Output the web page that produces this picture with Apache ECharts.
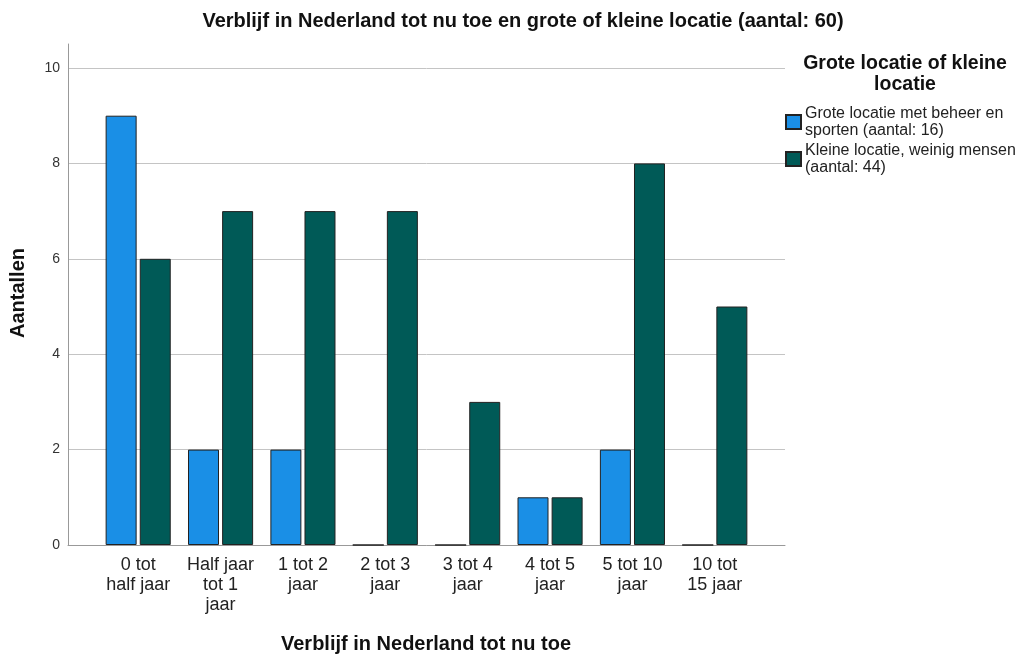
<!DOCTYPE html>
<html lang="nl">
<head>
    <meta charset="utf-8">
    <title>Verblijf in Nederland</title>
    <script src="https://cdn.jsdelivr.net/npm/echarts@6/dist/echarts.min.js"></script>
    <style type="text/css">
        html, body { margin: 0; padding: 0; background: #fff; }
        #main { width: 1026px; height: 655px; }
    </style>
</head>
<body>
    <div id="main"></div>
    <script type="text/javascript">
        // categorieën en aantallen
        var categories = ['0 tot\nhalf jaar', 'Half jaar\ntot 1\njaar', '1 tot 2\njaar', '2 tot 3\njaar',
            '3 tot 4\njaar', '4 tot 5\njaar', '5 tot 10\njaar', '10 tot\n15 jaar'];
        var groot = [9, 2, 2, 0, 0, 1, 2, 0];
        var klein = [6, 7, 7, 7, 3, 1, 8, 5];
        var legendNames = {
            groot: 'Grote locatie met beheer en\nsporten (aantal: 16)',
            klein: 'Kleine locatie, weinig mensen\n(aantal: 44)'
        };

        var chart = echarts.init(document.getElementById('main'));
        var font = 'Arial, "Liberation Sans", sans-serif';

        var option = {
            animation: false,
            textStyle: { fontFamily: font },
            title: {
                text: 'Verblijf in Nederland tot nu toe en grote of kleine locatie (aantal: 60)',
                left: 518, textAlign: 'center', top: 6,
                textStyle: { fontSize: 20, fontWeight: 'bold', color: '#111', fontFamily: font }
            },
            graphic: [
                {
                    type: 'text', x: 905, y: 53,
                    style: {
                        text: 'Grote locatie of kleine\nlocatie',
                        textAlign: 'center', fill: '#111', lineHeight: 21,
                        font: 'bold 19.5px Arial, "Liberation Sans", sans-serif'
                    }
                },
                {
                    type: 'text', x: 426, y: 634,
                    style: {
                        text: 'Verblijf in Nederland tot nu toe',
                        textAlign: 'center', fill: '#111',
                        font: 'bold 20px Arial, "Liberation Sans", sans-serif'
                    }
                },
                {
                    type: 'text', rotation: Math.PI / 2, x: 8, y: 293,
                    style: {
                        text: 'Aantallen', textAlign: 'center',
                        fill: '#111', font: 'bold 20px Arial, "Liberation Sans", sans-serif'
                    }
                }
            ],
            legend: {
                orient: 'vertical', left: 785, top: 105, padding: 0,
                icon: 'rect', itemWidth: 15, itemHeight: 14, itemGap: 3,
                textStyle: { fontSize: 16, color: '#222', lineHeight: 17, padding: [0, 0, 0, -1] },
                formatter: function (name) { return legendNames[name]; }
            },
            grid: [
                { left: 68, right: 241, top: 44, bottom: 110 },
                { left: 68, right: 241, top: 68, bottom: 110 },
                { left: 97, right: 270, top: 68, bottom: 110 }
            ],
            xAxis: [
                {
                    type: 'value', gridIndex: 0, min: 0, max: 1,
                    axisLine: { show: true, lineStyle: { color: '#999', width: 1 } },
                    axisTick: { show: false }, axisLabel: { show: false }, splitLine: { show: false }
                },
                {
                    type: 'value', gridIndex: 1, min: 0, max: 1, show: false
                },
                {
                    type: 'category', gridIndex: 2, data: categories,
                    axisLine: { show: false }, axisTick: { show: false },
                    axisLabel: { fontSize: 18, color: '#222', lineHeight: 20, margin: 10, interval: 0 }
                }
            ],
            yAxis: [
                {
                    type: 'value', gridIndex: 0, min: 0, max: 10.5,
                    axisLine: { show: true, lineStyle: { color: '#999' } },
                    axisTick: { show: false }, axisLabel: { show: false }, splitLine: { show: false }
                },
                {
                    type: 'value', gridIndex: 1, min: 0, max: 10, interval: 2,
                    axisLine: { show: false }, axisTick: { show: false },
                    axisLabel: { fontSize: 14, color: '#333', margin: 8 },
                    splitLine: { lineStyle: { color: '#c4c4c4' } }
                },
                {
                    type: 'value', gridIndex: 2, min: 0, max: 10, show: false
                }
            ],
            series: [
                {
                    name: 'groot', type: 'bar', xAxisIndex: 2, yAxisIndex: 2,
                    data: groot, barWidth: 31, barGap: '10%',
                    itemStyle: { color: '#1a8fe6', borderColor: '#222', borderWidth: 1 }
                },
                {
                    name: 'klein', type: 'bar', xAxisIndex: 2, yAxisIndex: 2,
                    data: klein, barWidth: 31, barGap: '10%',
                    itemStyle: { color: '#005a57', borderColor: '#222', borderWidth: 1 }
                }
            ]
        };
        chart.setOption(option);
    </script>
</body>
</html>
